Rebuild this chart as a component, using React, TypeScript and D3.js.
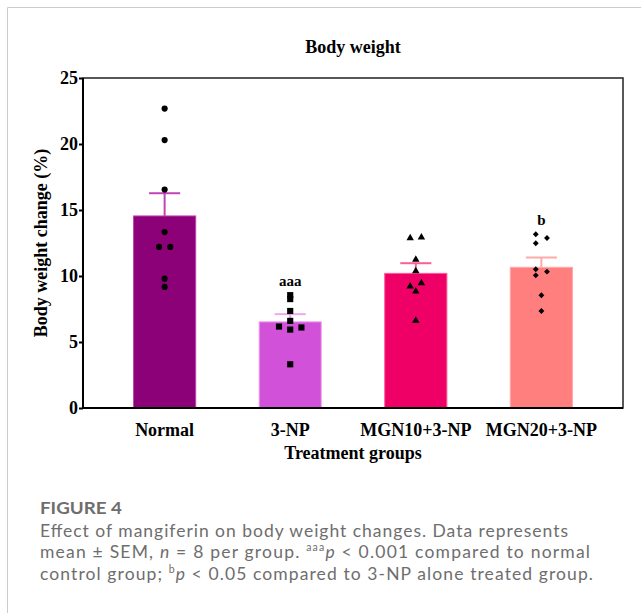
import React, { useEffect, useRef } from "react";
import * as d3 from "d3";

// chart data
const categories = ["Normal", "3-NP", "MGN10+3-NP", "MGN20+3-NP"];
const means = [14.55, 6.53, 10.2, 10.66];
const sems = [1.72, 0.58, 0.77, 0.74];
const barColors = ["#8c0078", "#d152d9", "#ee0066", "#ff7f7f"];
const errColors = ["#c244b4", "#f3a6f0", "#ff5c98", "#ffaaaa"];
const annotations = ["", "aaa", "", "b"];

// individual animals (value, jitter slot)
const normalPts = [22.68, 20.3, 16.55, 13.33, 12.2, 12.2, 9.8, 9.17];
const normalSlots = [0, 0, 0, 0, -1, 1, 0, 0];
const npPts = [8.55, 8.25, 7.35, 6.6, 6.17, 6.1, 5.94, 3.31];
const npSlots = [0, 0, 0, 0, -2, 2, 0, 0];
const mgn10Pts = [12.88, 12.93, 11.24, 10.38, 9.22, 9.47, 8.84, 6.62];
const mgn10Slots = [-1, 1, 0, 0, -1, 1, 0, 0];
const mgn20Pts = [13.16, 12.88, 12.48, 10.51, 10.33, 10.05, 8.54, 7.35];
const mgn20Slots = [-1, 1, -1, -1, 1, -1, 0, 0];

const yTicks = [0, 5, 10, 15, 20, 25];

const margin = { top: 78, right: 18, bottom: 205, left: 83 };
const width = 641;
const height = 613;

const serif = "'Liberation Serif', 'Times New Roman', serif";
const sans = "Lato, 'Open Sans', sans-serif";

export default function App() {
  const yAxisRef = useRef<SVGGElement>(null);

  const x = d3
    .scalePoint<string>()
    .domain(categories)
    .range([margin.left, width - margin.right])
    .padding(0.65);
  const y = d3
    .scaleLinear()
    .domain([0, 25])
    .range([height - margin.bottom, margin.top]);

  const barW = x.step() * 0.495;
  const slotW = 5.6;

  const groups = [
    { pts: normalPts, slots: normalSlots, sym: d3.symbolCircle, size: 30 },
    { pts: npPts, slots: npSlots, sym: d3.symbolSquare, size: 38 },
    { pts: mgn10Pts, slots: mgn10Slots, sym: d3.symbolTriangle, size: 24 },
    { pts: mgn20Pts, slots: mgn20Slots, sym: d3.symbolDiamond2, size: 22 },
  ];

  useEffect(() => {
    const axis = d3.axisLeft(y).tickValues(yTicks).tickSize(4).tickPadding(1);
    const g = d3.select(yAxisRef.current);
    g.call(axis);
    g.select(".domain").remove();
    g.selectAll(".tick line").attr("stroke", "#000").attr("stroke-width", 2);
    g.selectAll(".tick text")
      .attr("font-family", serif)
      .attr("font-weight", "bold")
      .attr("font-size", 18)
      .attr("fill", "#000");
  }, []);

  const x0 = margin.left;
  const x1 = width - margin.right;
  const y0 = y(0);
  const y1 = y(25);

  return (
    <svg
      width={width}
      height={height}
      style={{ position: "absolute", left: 0, top: 0, background: "#fff" }}
    >
      {/* figure frame */}
      <line x1={7.5} x2={width} y1={7.5} y2={7.5} stroke="#cccccc" />
      <line x1={7.5} x2={7.5} y1={7.5} y2={height} stroke="#cccccc" />

      <text
        x={(x0 + x1) / 2}
        y={53}
        textAnchor="middle"
        fontFamily={serif}
        fontWeight="bold"
        fontSize={18}
      >
        Body weight
      </text>

      {/* bars */}
      {categories.map((c, i) => (
        <rect
          key={c}
          x={x(c)! - barW / 2}
          y={y(means[i])}
          width={barW}
          height={y(0) - y(means[i])}
          fill={barColors[i]}
          stroke={errColors[i]}
          strokeWidth={1}
        />
      ))}

      {/* SEM bars */}
      {categories.map((c, i) => (
        <g key={c} stroke={errColors[i]} strokeWidth={2}>
          <line x1={x(c)} x2={x(c)} y1={y(means[i])} y2={y(means[i] + sems[i])} />
          <line
            x1={x(c)! - barW / 4}
            x2={x(c)! + barW / 4}
            y1={y(means[i] + sems[i])}
            y2={y(means[i] + sems[i])}
          />
        </g>
      ))}

      {/* points */}
      {groups.map((gr, i) =>
        gr.pts.map((v, j) => (
          <path
            key={i + "-" + j}
            d={d3.symbol(gr.sym, gr.size)()!}
            transform={`translate(${x(categories[i])! + gr.slots[j] * slotW},${y(v)})`}
            fill="#000"
          />
        ))
      )}

      {/* significance letters */}
      {categories.map((c, i) =>
        annotations[i] ? (
          <text
            key={c}
            x={x(c)}
            y={i === 1 ? 286 : 225}
            textAnchor="middle"
            fontFamily={serif}
            fontWeight="bold"
            fontSize={15}
          >
            {annotations[i]}
          </text>
        ) : null
      )}

      {/* frame */}
      <rect
        x={x0}
        y={y1}
        width={x1 - x0}
        height={y0 - y1}
        fill="none"
        stroke="#222"
        strokeWidth={1.5}
      />
      <line x1={x0} x2={x0} y1={y1} y2={y0} stroke="#000" strokeWidth={2} />
      <line x1={x0} x2={x1} y1={y0} y2={y0} stroke="#000" strokeWidth={2} />
      <g ref={yAxisRef} transform={`translate(${x0},0)`} />

      {/* category labels */}
      {categories.map((c) => (
        <text
          key={c}
          x={x(c)}
          y={436}
          textAnchor="middle"
          fontFamily={serif}
          fontWeight="bold"
          fontSize={18}
        >
          {c}
        </text>
      ))}

      <text
        x={(x0 + x1) / 2}
        y={459}
        textAnchor="middle"
        fontFamily={serif}
        fontWeight="bold"
        fontSize={18}
      >
        Treatment groups
      </text>
      <text
        transform={`translate(47,${(y0 + y1) / 2}) rotate(-90)`}
        textAnchor="middle"
        fontFamily={serif}
        fontWeight="bold"
        fontSize={18}
      >
        Body weight change (%)
      </text>

      {/* caption */}
      <g fontFamily={sans} fill="#6e6e6e">
        <text x={40} y={514} fontSize={17.5} fontWeight="bold" textLength={82} lengthAdjust="spacingAndGlyphs">
          FIGURE 4
        </text>
        <text x={40} y={536.5} fontSize={17.5} textLength={528}>
          Effect of mangiferin on body weight changes. Data represents
        </text>
        <text x={40} y={558} fontSize={17.5} textLength={550}>
          mean ± SEM, <tspan fontStyle="italic">n</tspan> = 8 per group.{" "}
          <tspan fontSize={10.5} dy={-7}>aaa</tspan>
          <tspan fontStyle="italic" dy={7}>p</tspan> &lt; 0.001 compared to normal
        </text>
        <text x={40} y={579.5} fontSize={17.5} textLength={553}>
          control group; <tspan fontSize={10.5} dy={-7}>b</tspan>
          <tspan fontStyle="italic" dy={7}>p</tspan> &lt; 0.05 compared to 3-NP alone treated group.
        </text>
      </g>
    </svg>
  );
}
